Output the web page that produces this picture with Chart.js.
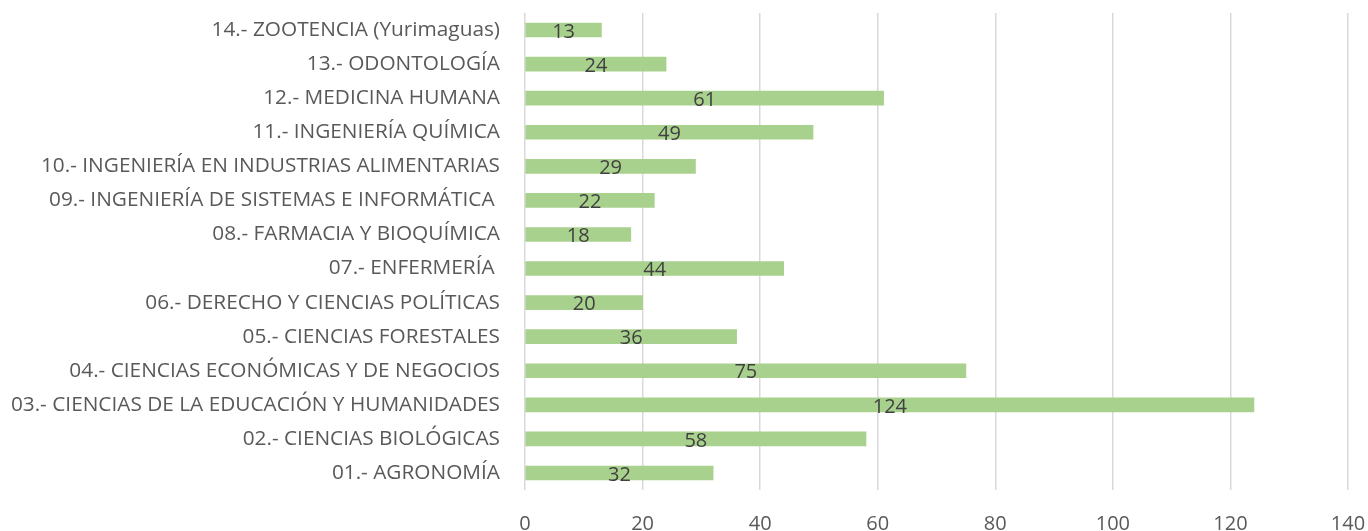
<!DOCTYPE html>
<html>
<head>
<meta charset="utf-8">
<script src="https://cdn.jsdelivr.net/npm/chart.js@4/dist/chart.umd.min.js"></script>
<style>
  html, body { margin: 0; padding: 0; background: #fff; }
  #wrap { width: 1368px; height: 531px; }
</style>
</head>
<body>
<div id="wrap"><canvas id="myChart"></canvas></div>
<script>
const categories = [
  '01.- AGRONOMÍA',
  '02.- CIENCIAS BIOLÓGICAS',
  '03.- CIENCIAS DE LA EDUCACIÓN Y HUMANIDADES',
  '04.- CIENCIAS ECONÓMICAS Y DE NEGOCIOS',
  '05.- CIENCIAS FORESTALES',
  '06.- DERECHO Y CIENCIAS POLÍTICAS',
  '07.- ENFERMERÍA ',
  '08.- FARMACIA Y BIOQUÍMICA',
  '09.- INGENIERÍA DE SISTEMAS E INFORMÁTICA ',
  '10.- INGENIERÍA EN INDUSTRIAS ALIMENTARIAS',
  '11.- INGENIERÍA QUÍMICA',
  '12.- MEDICINA HUMANA',
  '13.- ODONTOLOGÍA',
  '14.- ZOOTENCIA (Yurimaguas)'
];
const values = [32, 58, 124, 75, 36, 20, 44, 18, 22, 29, 49, 61, 24, 13];
const xTicks = [0, 20, 40, 60, 80, 100, 120, 140];

const FONT = '"Open Sans", sans-serif';

// draws the value in the middle of each bar
const barValues = {
  id: 'barValues',
  afterDatasetsDraw(chart) {
    const c = chart.ctx;
    const meta = chart.getDatasetMeta(0);
    c.save();
    c.font = '20px ' + FONT;
    c.fillStyle = '#404040';
    c.textAlign = 'center';
    c.textBaseline = 'middle';
    meta.data.forEach((bar, i) => {
      const mid = (bar.x + bar.base) / 2;
      c.fillText(values[i], mid, bar.y + 2);
    });
    c.restore();
  }
};

const ctx = document.getElementById('myChart');

new Chart(ctx, {
  type: 'bar',
  data: {
    labels: categories,
    datasets: [{
      data: values,
      backgroundColor: '#A9D18E',
      barThickness: 14
    }]
  },
  options: {
    indexAxis: 'y',
    responsive: true,
    maintainAspectRatio: false,
    animation: false,
    layout: { padding: { top: 13, right: 0, left: 0, bottom: 0 } },
    plugins: {
      legend: { display: false },
      tooltip: { enabled: false }
    },
    scales: {
      x: {
        min: 0,
        max: 140,
        afterBuildTicks(axis) {
          axis.ticks = xTicks.map(v => ({ value: v }));
        },
        afterFit(axis) {
          axis.paddingLeft = 0;
          axis.paddingRight = 20;
          axis.height = 41;
        },
        grid: { color: '#d9d9d9', lineWidth: 1.5, drawTicks: false },
        border: { display: false },
        ticks: {
          color: '#595959',
          font: { family: FONT, size: 20 },
          padding: 22
        }
      },
      y: {
        reverse: true,
        afterFit(axis) {
          axis.paddingTop = 0;
          axis.paddingBottom = 0;
          axis.width = 525;
        },
        grid: { display: false, drawTicks: false },
        border: { display: false },
        ticks: {
          color: '#595959',
          font: { family: FONT, size: 20.8 },
          padding: 25,
          autoSkip: false
        }
      }
    }
  },
  plugins: [barValues]
});
</script>
</body>
</html>
